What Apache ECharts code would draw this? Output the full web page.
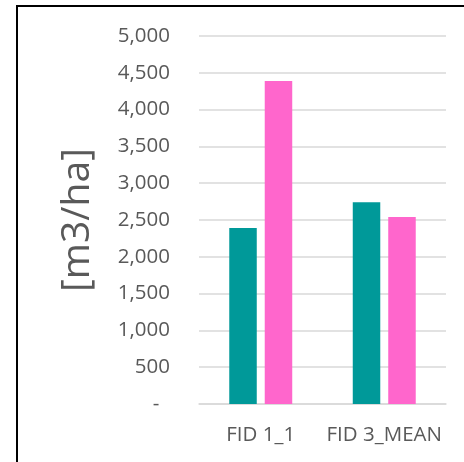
<!DOCTYPE html>
<html>
<head>
<meta charset="utf-8">
<script src="https://cdn.jsdelivr.net/npm/echarts@6/dist/echarts.min.js"></script>
<style>
  html, body { margin: 0; padding: 0; background: #fff; }
  #chart { width: 464px; height: 462px; }
</style>
</head>
<body>
<div id="chart"></div>
<script>
// Stand volume per feature
const categories = ['FID 1_1', 'FID 3_MEAN'];
const seriesOneValues = [2390, 2740];
const seriesTwoValues = [4390, 2540];
const axisName = '[m3/ha]';

const labelFont = '"Open Sans", "Liberation Sans", sans-serif';
const textGrey = '#595959';

const chart = echarts.init(document.getElementById('chart'), null, { renderer: 'canvas' });

chart.setOption({
  backgroundColor: '#ffffff',
  animation: false,
  graphic: [{
    type: 'rect',
    shape: { x: 17, y: 6, width: 520, height: 520 },
    style: { fill: 'none', stroke: '#000000', lineWidth: 2 },
    silent: true
  }],
  grid: { left: 199, right: 18, top: 36, bottom: 58 },
  xAxis: {
    type: 'category',
    data: categories,
    axisLine: { lineStyle: { color: '#d9d9d9', width: 1.5 } },
    axisTick: { show: false },
    axisLabel: { interval: 0, color: textGrey, fontFamily: labelFont, fontSize: 20.5, margin: 21 }
  },
  yAxis: {
    type: 'value',
    min: 0,
    max: 5000,
    interval: 500,
    name: axisName,
    nameLocation: 'middle',
    nameRotate: 90,
    nameGap: 121,
    nameTextStyle: { color: textGrey, fontFamily: labelFont, fontSize: 39, verticalAlign: 'middle' },
    axisLine: { show: false },
    axisTick: { show: false },
    splitLine: { lineStyle: { color: '#d9d9d9', width: 1.5 } },
    axisLabel: {
      color: textGrey,
      fontFamily: labelFont,
      fontSize: 20.5,
      margin: 29,
      formatter: function (v) {
        return v === 0 ? '-  ' : v.toLocaleString('en-US');
      }
    }
  },
  series: [
    {
      name: 'Series 1',
      type: 'bar',
      data: seriesOneValues,
      barWidth: 27.5,
      barGap: '29%',
      itemStyle: { color: '#009999' }
    },
    {
      name: 'Series 2',
      type: 'bar',
      data: seriesTwoValues,
      barWidth: 27.5,
      itemStyle: { color: '#ff66cc' }
    }
  ]
});
</script>
</body>
</html>
